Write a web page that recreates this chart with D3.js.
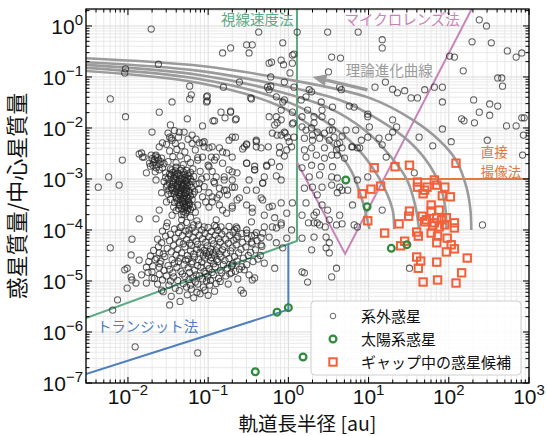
<!DOCTYPE html>
<html>
<head>
<meta charset="utf-8">
<script src="https://cdn.jsdelivr.net/npm/d3@7"></script>
<style>
body{margin:0;background:#fff;}
text{font-family:"Noto Sans CJK JP","Noto Sans",sans-serif;}
.tick-label{font-family:"Liberation Sans",Arial,sans-serif;}
</style>
</head>
<body>
<svg id="chart" width="547" height="436"></svg>
<script>
// ---- data (log10 a [au], log10 M/Mstar) ----
var xExponents = [-2, -1, 0, 1, 2, 3];
var yExponents = [-7, -6, -5, -4, -3, -2, -1, 0];

// hot Jupiter pile-up
var hotJupiters = [
[-1.44,-2.87],[-1.38,-2.89],[-1.31,-2.86],[-1.26,-2.90],
[-1.47,-2.94],[-1.40,-2.96],[-1.35,-2.93],[-1.29,-2.97],[-1.24,-2.94],
[-1.45,-3.03],[-1.41,-3.00],[-1.36,-3.04],[-1.32,-3.01],[-1.27,-3.03],[-1.22,-3.00],
[-1.48,-3.09],[-1.43,-3.07],[-1.38,-3.10],[-1.33,-3.08],[-1.29,-3.11],[-1.25,-3.07],
[-1.46,-3.16],[-1.40,-3.14],[-1.36,-3.17],[-1.31,-3.15],[-1.26,-3.13],[-1.21,-3.16],
[-1.44,-3.22],[-1.39,-3.20],[-1.34,-3.23],[-1.30,-3.21],[-1.24,-3.24],
[-1.42,-3.29],[-1.37,-3.27],[-1.33,-3.30],[-1.28,-3.28],[-1.23,-3.26],
[-1.40,-3.36],[-1.35,-3.34],[-1.31,-3.37],[-1.27,-3.35],[-1.22,-3.33],
[-1.38,-3.43],[-1.34,-3.41],[-1.29,-3.44],[-1.25,-3.42],
[-1.36,-3.50],[-1.31,-3.48],[-1.27,-3.51],[-1.23,-3.49],
[-1.33,-3.57],[-1.29,-3.55],[-1.25,-3.58],[-1.31,-3.64],[-1.26,-3.62],
[-1.42,-2.92],[-1.34,-2.99],[-1.28,-3.05],[-1.38,-3.12],[-1.33,-3.18],[-1.27,-3.24],[-1.36,-3.31],
[-1.30,-3.39],[-1.24,-3.46],[-1.29,-3.53],[-1.45,-3.19],[-1.41,-3.25],[-1.20,-3.40],[-1.50,-3.00],[-1.35,-2.83],
[-1.43,-2.98],[-1.37,-3.05],[-1.32,-3.13],[-1.27,-3.19],[-1.35,-3.26],[-1.30,-3.32],[-1.25,-3.38],
[-1.32,-3.45],[-1.27,-3.56],[-1.22,-3.60],[-1.39,-3.38],[-1.44,-3.11],[-1.49,-3.22],[-1.41,-2.84],
[-1.30,-2.92],[-1.23,-3.11],[-1.19,-3.30],[-1.35,-3.52],[-1.28,-3.66],[-1.33,-3.70],[-1.46,-3.28],
[-1.42,-3.46],[-1.20,-3.05],[-1.26,-2.99],[-1.39,-2.91],[-1.34,-3.10],[-1.29,-3.28],[-1.24,-3.52],
[-1.37,-3.58],[-1.48,-2.90],[-1.53,-2.97],[-1.51,-3.12],[-1.45,-2.82],[-1.40,-2.77],[-1.33,-2.79],
[-1.27,-2.83],[-1.22,-2.87],
[-1.70,-2.60],[-1.66,-2.55],[-1.62,-2.63],[-1.68,-2.68],[-1.64,-2.72],[-1.59,-2.66],[-1.57,-2.78],
[-1.72,-2.75],[-1.61,-2.82],[-1.66,-2.86],[-1.55,-2.70],[-1.53,-2.88],
[-1.67,-2.62],[-1.63,-2.58],[-1.60,-2.71],[-1.69,-2.73],[-1.58,-2.59],[-1.65,-2.78],
[-1.50,-2.10],[-1.42,-2.05],[-1.30,-2.08],[-1.46,-2.20],[-1.37,-2.18],[-1.25,-2.22],[-1.52,-2.32],
[-1.41,-2.30],[-1.33,-2.35],[-1.20,-2.30],[-1.48,-2.45],[-1.39,-2.42],[-1.29,-2.47],[-1.16,-2.43],
[-1.44,-2.56],[-1.35,-2.55],[-1.26,-2.60],[-1.50,-2.66],[-1.40,-2.68],[-1.31,-2.72],[-1.22,-2.68],
[-1.47,-2.80],[-1.19,-2.80],[-1.13,-2.58],
[-1.11,-2.29],[-1.05,-2.27],[-0.99,-2.39],[-0.86,-2.39],[-0.77,-2.49],[-0.82,-2.69],[-0.74,-2.82],
[-0.80,-3.02],[-0.86,-3.18],[-0.76,-3.31],[-0.89,-3.37],[-0.99,-3.27],[-1.07,-3.35],[-1.13,-3.51],
[-0.99,-3.55],[-0.82,-3.61],[-0.70,-3.57],[-0.64,-3.41],[-0.67,-3.16],[-0.64,-2.88],[-1.02,-2.96],
[-1.11,-3.08],[-0.99,-2.76],[-1.13,-2.63],[-1.07,-2.57],[-0.90,-2.57],[-0.74,-2.24],[-1.20,-2.14],
[-1.36,-2.08],[-1.48,-2.18],[-1.57,-2.29],[-1.65,-2.53],[-1.83,-2.49],[-1.80,-2.57],[-1.73,-2.69],
[-1.77,-2.88],[-1.65,-3.02],[-1.58,-3.27],[-1.52,-3.45],[-1.61,-3.61],[-1.45,-3.71],[-1.33,-3.80],
[-1.51,-3.86],[-1.30,-3.70],[-1.22,-3.75],[-1.27,-3.85],[-1.18,-3.90],[-1.35,-3.95],[-1.24,-4.00],
[-1.14,-3.82],[-1.18,-2.95],[-1.15,-3.10],[-1.17,-3.25],[-1.12,-3.20],[-1.19,-3.55],[-1.16,-3.65],
[-1.08,-3.00],[-1.05,-3.15],[-1.55,-3.05],[-1.52,-3.15],[-1.50,-3.30],[-1.47,-3.40],[-1.43,-3.55],
[-1.40,-3.62],[-1.10,-2.85],[-0.95,-2.85],[-0.93,-3.05],[-0.95,-3.45],[-1.03,-3.45]
];

// super-Earths and Neptunes (mostly transits)
var superEarths = [
[-1.74,-4.62],[-1.75,-4.83],[-1.72,-4.51],
[-1.68,-4.40],[-1.69,-4.71],[-1.67,-4.95],[-1.66,-4.58],
[-1.63,-4.18],[-1.62,-4.33],[-1.64,-4.55],[-1.61,-4.87],[-1.63,-5.06],[-1.60,-4.66],
[-1.57,-4.02],[-1.58,-4.25],[-1.56,-4.47],[-1.59,-4.61],[-1.55,-4.79],[-1.57,-4.98],[-1.56,-5.21],
[-1.52,-3.93],[-1.53,-4.12],[-1.51,-4.36],[-1.54,-4.52],[-1.50,-4.70],[-1.52,-4.90],[-1.49,-5.08],
[-1.47,-4.08],[-1.48,-4.21],[-1.46,-4.43],[-1.45,-4.58],[-1.48,-4.77],[-1.44,-4.84],[-1.47,-5.00],[-1.46,-5.30],
[-1.42,-3.98],[-1.41,-4.16],[-1.43,-4.30],[-1.40,-4.49],[-1.42,-4.65],[-1.39,-4.73],[-1.43,-4.92],[-1.41,-5.14],
[-1.37,-4.05],[-1.36,-4.24],[-1.38,-4.38],[-1.35,-4.55],[-1.37,-4.62],[-1.34,-4.81],[-1.38,-4.99],[-1.36,-5.19],[-1.35,-5.40],
[-1.33,-3.92],[-1.32,-4.11],[-1.31,-4.27],[-1.33,-4.45],[-1.30,-4.68],[-1.32,-4.86],[-1.31,-5.05],
[-1.28,-4.02],[-1.27,-4.19],[-1.29,-4.33],[-1.26,-4.50],[-1.28,-4.59],[-1.25,-4.74],[-1.29,-4.91],[-1.27,-5.12],[-1.26,-5.27],
[-1.24,-4.08],[-1.23,-4.26],[-1.22,-4.41],[-1.25,-4.57],[-1.21,-4.66],[-1.23,-4.83],[-1.24,-4.97],[-1.22,-5.08],
[-1.20,-3.96],[-1.19,-4.14],[-1.21,-4.30],[-1.18,-4.47],[-1.20,-4.62],[-1.17,-4.79],[-1.19,-4.94],[-1.21,-5.16],[-1.18,-5.33],
[-1.16,-4.04],[-1.15,-4.22],[-1.14,-4.38],[-1.17,-4.53],[-1.13,-4.70],[-1.15,-4.88],[-1.16,-5.02],[-1.14,-5.22],
[-1.12,-3.90],[-1.11,-4.10],[-1.13,-4.28],[-1.10,-4.44],[-1.12,-4.58],[-1.09,-4.73],[-1.11,-4.90],[-1.13,-5.06],[-1.10,-5.25],
[-1.08,-4.00],[-1.07,-4.17],[-1.09,-4.35],[-1.06,-4.49],[-1.08,-4.63],[-1.05,-4.81],[-1.07,-4.96],[-1.06,-5.12],
[-1.04,-4.07],[-1.03,-4.24],[-1.05,-4.40],[-1.02,-4.46],[-1.04,-4.55],[-1.01,-4.69],[-1.03,-4.85],[-1.02,-5.00],[-1.04,-5.18],
[-1.00,-3.95],[-0.99,-4.13],[-1.01,-4.31],[-0.98,-4.43],[-1.00,-4.51],[-0.97,-4.60],[-0.99,-4.76],[-1.01,-4.92],[-0.98,-5.08],[-1.00,-5.28],
[-0.96,-4.03],[-0.95,-4.20],[-0.97,-4.37],[-0.94,-4.45],[-0.96,-4.54],[-0.93,-4.66],[-0.95,-4.83],[-0.97,-4.99],
[-0.92,-3.91],[-0.91,-4.10],[-0.93,-4.27],[-0.90,-4.41],[-0.92,-4.49],[-0.89,-4.58],[-0.91,-4.72],[-0.93,-4.88],[-0.90,-5.05],[-0.92,-5.20],
[-0.88,-4.01],[-0.87,-4.17],[-0.89,-4.33],[-0.86,-4.47],[-0.88,-4.62],[-0.85,-4.79],[-0.87,-4.95],
[-0.84,-3.94],[-0.83,-4.08],[-0.85,-4.24],[-0.82,-4.39],[-0.84,-4.53],[-0.81,-4.68],[-0.83,-4.84],[-0.85,-5.01],
[-0.79,-4.02],[-0.78,-4.18],[-0.80,-4.32],[-0.77,-4.46],[-0.79,-4.60],[-0.76,-4.75],[-0.78,-4.90],
[-0.74,-3.93],[-0.73,-4.11],[-0.75,-4.26],[-0.72,-4.41],[-0.74,-4.56],[-0.71,-4.71],[-0.73,-4.86],[-0.75,-5.06],
[-0.69,-4.04],[-0.68,-4.20],[-0.70,-4.35],[-0.67,-4.52],[-0.69,-4.66],[-0.66,-4.81],
[-0.64,-3.97],[-0.63,-4.13],[-0.65,-4.29],[-0.62,-4.45],[-0.64,-4.61],[-0.61,-4.77],[-0.63,-4.96],
[-0.58,-4.07],[-0.57,-4.24],[-0.59,-4.38],[-0.56,-4.55],[-0.58,-4.72],
[-0.52,-4.00],[-0.51,-4.17],[-0.53,-4.33],[-0.50,-4.50],[-0.52,-4.68],[-0.49,-4.88],
[-0.46,-4.11],[-0.45,-4.27],[-0.47,-4.44],[-0.44,-4.62],
[-0.40,-4.05],[-0.39,-4.21],[-0.41,-4.39],[-0.38,-4.57],
[-0.34,-4.15],[-0.33,-4.32],[-0.35,-4.50],
[-1.86,-3.78],[-1.65,-3.78],[-1.95,-4.18],[-2.22,-4.35],[-2.04,-4.78],[-1.96,-4.92],[-1.90,-5.04],
[-2.01,-5.14],[-1.91,-6.29],[-1.13,-6.41],[-2.19,-5.57],[-2.13,-5.37],[-1.58,-5.18],[-1.48,-5.47],
[-1.96,-4.49],[-1.86,-4.59],[-1.77,-4.73],[-1.83,-4.88],[-1.70,-4.82],[-1.61,-4.45],[-1.61,-4.73],
[-2.01,-4.75],[-1.95,-4.98],[-1.77,-5.04],[-1.70,-4.94],
[-0.67,-4.00],[-0.65,-4.16],[-0.52,-4.06],[-0.46,-4.24],[-0.42,-4.10],[-0.34,-4.29],[-0.32,-4.06],
[-0.24,-4.14],[-0.15,-4.25],[-0.07,-4.35],[-0.15,-3.96],[-0.09,-3.90],[0.04,-4.00],[0.17,-4.16],
[0.32,-4.14],[0.47,-4.14],[0.51,-4.25],[0.29,-4.39],[0.47,-4.35],[0.51,-4.45],[0.60,-4.75],
[0.54,-4.92],[0.20,-4.84],[0.24,-5.02],[-0.17,-4.75],[-0.30,-4.65],[-0.42,-4.94],[-0.45,-4.98],
[-0.59,-5.18],[-0.56,-5.24],[-0.55,-4.78],[-0.70,-4.69],[-0.71,-4.84],[0.82,-3.90],[0.86,-3.94],
[0.32,-3.86],[0.17,-4.82],[0.46,-3.94],[0.67,-3.88],[-0.02,-4.16],[1.51,-4.75],[2.42,-3.90],
[0.25,-3.86],[0.39,-3.90],[0.32,-3.71]
];

// radial velocity giants inside ~10 au
var rvPlanets = [
[-1.71,-0.06],[-1.62,-0.75],[-2.04,-0.92],[-2.03,-0.84],[-2.22,-1.43],[-1.23,-1.18],[-1.21,-1.35],
[-1.23,-1.43],[-1.02,-1.39],[-1.01,-1.47],[-0.82,-0.53],[-0.72,-0.43],[-0.52,-0.37],[-0.45,-0.37],
[-0.49,-0.53],[-0.37,-0.12],[-0.24,-0.73],[-0.21,-0.71],[-0.22,-1.00],[-0.61,-1.10],[-0.81,-1.20],
[-0.22,-1.18],[-2.03,-1.78],[-1.61,-1.69],[-1.45,-1.49],[-0.46,-1.43],[-0.84,-1.69],[-0.72,-1.67],
[-0.65,-1.82],[-0.92,-1.86],[-1.07,-1.96],[-1.26,-1.82],[-1.47,-1.94],[-1.70,-2.08],[-0.26,-1.20],
[-2.07,-2.63],[-2.24,-2.96],[-2.11,-3.12],[-2.37,-3.16],[-1.86,-2.51],[-1.82,-2.57],[-1.71,-2.53],
[-1.61,-2.37],[-1.45,-2.24],[-1.15,-2.22],[-0.95,-2.37],[-0.92,-2.63],[-0.70,-2.57],[-0.55,-2.37],
[-0.52,-2.31],[-0.40,-2.24],[-0.40,-2.37],[-0.25,-2.37],[-0.27,-2.73],[-0.52,-2.69],[-0.42,-2.82],
[-0.49,-3.02],[-0.32,-3.08],[-0.70,-3.02],[-0.77,-3.22],[-0.95,-3.35],[-0.32,-3.41],[-0.24,-3.55],
[-0.45,-3.57],
[-1.01,-1.37],[-1.02,-1.49],[-0.72,-1.69],[-0.79,-1.80],[-0.66,-1.84],[-0.94,-1.86],[-0.47,-1.41],
[-0.24,-1.78],[-0.14,-1.90],[-0.17,-1.94],[0.06,-1.90],[-1.07,-2.29],[-1.05,-2.37],[-0.82,-2.47],
[-0.70,-2.18],[-0.66,-2.18],[-0.57,-2.41],[-0.52,-2.33],[-0.40,-2.27],[-0.34,-2.39],[-0.14,-2.14],
[-0.09,-2.14],[-0.04,-2.10],[-0.01,-2.18],[0.01,-2.27],[-0.11,-2.37],[-0.02,-2.43],[-0.11,-2.49],
[-0.05,-2.55],[-0.52,-2.69],[-0.42,-2.75],[-0.42,-2.82],[-0.21,-2.67],[-0.11,-2.76],[-0.27,-2.75],
[-0.30,-2.96],[-0.15,-2.94],[-0.09,-3.02],[-0.32,-3.08],[-0.40,-3.22],[-0.52,-3.22],[-0.70,-3.16],
[-0.80,-3.22],[-0.86,-3.31],[-0.92,-3.08],[-0.90,-2.96],[-0.80,-2.96],[-0.70,-2.86],[-1.00,-2.73],
[-0.96,-2.57],[-0.61,-3.37],[-0.52,-3.51],[-0.34,-3.37],[-0.20,-3.53],[-0.09,-3.47],[0.05,-3.47],
[-0.45,-3.65],[-0.30,-3.71],[-0.17,-3.76],[-0.02,-3.67],[-0.46,-3.84],[-0.20,-3.94],[-0.09,-3.86],
[-0.30,-3.94],[-0.65,-3.94],[-0.90,-3.80],[-0.90,-3.94],[-1.05,-3.94],[-0.77,-3.67],[-0.70,-3.53],
[-0.86,-3.51],
[0.05,-0.57],[0.26,-1.25],[0.16,-1.45],[0.22,-1.39],[-0.07,-1.49],[-0.09,-1.65],[0.24,-1.65],
[0.41,-1.49],[0.32,-1.78],[0.42,-1.65],[0.51,-2.04],[0.54,-1.88],[0.32,-1.90],[0.22,-2.04],
[0.20,-2.20],[0.30,-2.24],[0.39,-2.20],[0.51,-2.24],[0.57,-2.18],[0.64,-2.29],[0.60,-2.43],
[0.45,-2.39],[0.29,-2.39],[0.20,-2.43],[0.22,-2.57],[0.35,-2.53],[0.45,-2.59],[0.54,-2.53],
[0.61,-2.53],[0.67,-2.39],[0.79,-2.37],[0.86,-2.39],[0.70,-2.59],[0.55,-2.76],[0.41,-2.76],
[0.29,-2.73],[0.17,-2.78],[0.26,-2.96],[0.39,-2.92],[0.54,-2.96],[0.61,-2.98],[0.64,-3.16],
[0.54,-3.12],[0.42,-3.16],[0.30,-3.16],[0.20,-3.18],[0.36,-3.31],[0.61,-3.27],[0.67,-3.22],
[0.42,-3.51],[0.22,-3.47],[0.35,-3.65],[0.49,-3.61],[0.64,-3.71],[0.17,-3.71],[0.36,-3.86],
[0.51,-3.80],[0.60,-3.90],[0.80,-3.51],[0.74,-3.22],[0.86,-3.02],[0.99,-2.96],[0.91,-2.24],
[0.84,-2.04],[1.13,-2.20],[1.30,-2.08],[1.17,-3.61],[1.57,-2.88]
];

// wide orbit giants
var widePlanets = [
[0.11,-0.12],[0.49,-0.12],[0.87,-0.12],[-0.07,-0.33],[1.17,-0.27],[1.17,-0.43],[0.07,-0.55],
[0.54,-0.61],[0.65,-0.63],[-0.09,-0.67],[-0.06,-0.76],[0.05,-0.73],[0.02,-0.92],[0.50,-0.90],
[-0.05,-1.10],[0.07,-1.20],[0.29,-1.29],[0.66,-1.25],[1.08,-1.20],[1.30,-1.24],[1.36,-1.31],
[1.45,-1.27],[1.53,-1.41],[1.70,-1.25],[1.82,-1.20],[1.92,-1.20],[1.92,-1.49],[2.01,-0.59],
[2.07,-0.61],[2.18,-0.88],[2.31,-1.45],[2.29,-0.31],[2.53,-0.33],[2.38,0.12],[2.47,0.00],
[2.73,-0.49],[2.84,-0.61],[2.91,-0.53],[2.61,-1.02],[2.66,-1.02],[2.67,-1.18],[2.51,-1.53],
[2.61,-1.57],[2.51,-1.75],[2.38,-1.69],[2.16,-1.82],[2.19,-1.86],[2.32,-1.90],[2.72,-1.96],
[2.84,-1.96],[2.91,-1.80],[2.94,-1.80],[2.93,-2.14],[2.92,-2.53],[2.48,-2.24],[2.03,-2.27],
[1.80,-2.35],[1.63,-2.18],[1.92,-2.02],[-0.24,-1.25],[-0.15,-1.39],[-0.05,-1.45],[0.05,-1.69],
[-0.15,-1.78],[-0.09,-1.84],[0.05,-1.92],[-0.20,-2.10],[-0.05,-2.08],[0.07,-2.18],[0.04,-2.37],
[0.17,-1.78],[0.17,-1.98],[0.29,-2.00],[0.30,-2.14],[0.36,-2.08],[0.45,-2.10],[0.55,-2.04],
[0.72,-2.04],[0.42,-1.78],[0.55,-1.59],[0.76,-1.57],[0.99,-1.73],[1.01,-1.98],[0.61,-2.31],
[0.67,-2.16],[0.80,-2.37],[0.89,-2.39],[1.17,-2.33],[1.30,-1.84],[1.35,-1.98],[1.61,-1.41],
[1.21,-1.10],[0.99,-2.18],[0.99,-1.78],[0.82,-1.59],[0.64,-1.20],[1.25,-2.18],[1.22,-2.57]
];

// solar system planets
var solarNames = ["Mercury", "Venus", "Earth", "Mars", "Jupiter", "Saturn", "Uranus", "Neptune"];
var solarA = [0.387, 0.723, 1.0, 1.524, 5.20, 9.58, 19.2, 30.1];
var solarM = [1.66e-7, 2.45e-6, 3.0e-6, 3.23e-7, 9.55e-4, 2.86e-4, 4.37e-5, 5.15e-5];

// planet candidates in disk gaps
var gapCandidates = [
[1.07,-2.78],[1.33,-2.76],[1.51,-2.73],[2.09,-2.69],[1.15,-3.14],[1.03,-3.20],[0.92,-3.29],
[1.61,-3.06],[1.61,-3.16],[1.68,-3.29],[1.73,-3.16],[1.85,-3.12],[1.82,-3.02],[1.95,-3.16],
[1.92,-3.33],[2.02,-3.35],[1.70,-3.22],[1.78,-3.51],[1.51,-3.63],[1.50,-3.73],[1.88,-3.61],
[1.78,-3.63],[1.67,-3.73],[1.85,-3.76],[1.91,-3.80],[1.97,-3.76],[0.99,-3.82],[1.38,-3.88],
[1.70,-3.84],[1.82,-3.86],[1.88,-3.94],[1.95,-3.90],[2.07,-3.86],[2.07,-3.96],[1.20,-4.06],
[1.60,-4.04],[1.62,-4.12],[1.78,-4.06],[1.86,-4.12],[1.98,-4.16],[1.45,-4.22],[1.40,-4.31],
[1.85,-4.25],[2.03,-4.29],[2.07,-4.37],[1.97,-4.43],[2.23,-4.55],[1.60,-4.53],[1.65,-4.61],
[1.85,-4.63],[2.16,-4.84],[1.68,-5.02],[1.86,-4.98],[2.09,-5.04],[1.62,-4.75],[1.72,-3.80],
[1.80,-3.92]
];

// theoretical evolution tracks, log10 a / log10 M
var evolutionTracks = [
[[-2.55,-0.88],[-1.11,-1.12],[-0.11,-1.57],[0.26,-1.94],[0.57,-2.37],[0.79,-2.86],[0.92,-3.41],[1.01,-3.98]],
[[-2.55,-0.82],[-1.11,-1.04],[-0.11,-1.43],[0.39,-1.80],[0.76,-2.24],[1.03,-2.73],[1.21,-3.22],[1.30,-3.61],[1.32,-3.98]],
[[-2.55,-0.76],[-1.11,-0.96],[-0.11,-1.29],[0.51,-1.61],[0.95,-2.04],[1.26,-2.53],[1.48,-3.02],[1.58,-3.51],[1.63,-3.98]],
[[-2.55,-0.71],[-1.11,-0.88],[-0.11,-1.16],[0.64,-1.45],[1.13,-1.84],[1.51,-2.27],[1.76,-2.73],[1.91,-3.22],[1.96,-3.61],[1.97,-3.98]],
[[-2.55,-0.63],[-1.11,-0.78],[-0.11,-1.02],[1.01,-1.41],[1.55,-1.84],[1.88,-2.24],[2.09,-2.63],[2.22,-3.16],[2.27,-3.61],[2.28,-4.00]]
];

// detection limits [a, M]
var rvLimit = [[0.003, 1.87e-6], [1.28, 6.1e-5], [1.28, 3]];
var transitLimit = [[0.003, 1.5e-7], [1.0, 2.75e-6], [1.0, 5.5e-5]];
var microlensLimit = [[1.28, 2.15e-3], [5.1, 3.4e-5], [200, 2.4]];
var imagingLimit = [[16, 1e-3], [1000, 1e-3]];

var legendLabels = ["系外惑星", "太陽系惑星", "ギャップ中の惑星候補"];

// ---- colours ----
var COLOR = {
    rv: "#5aaa84",
    transit: "#4f7fbd",
    micro: "#c884b8",
    imaging: "#e07a3e",
    track: "#9b9b9b",
    gap: "#f2603a",
    solar: "#2e8a3c",
    exo: "#222222"
};

// ---- layout ----
var W = 547, H = 436;
var margin = {left: 86, right: 18, top: 9, bottom: 53};
var x = d3.scaleLog().domain([0.003, 1000]).range([margin.left, W - margin.right]);
var y = d3.scaleLog().domain([1e-7, 2.15]).range([H - margin.bottom, margin.top]);
var x0 = x.range()[0], x1 = x.range()[1], yb = y.range()[0], yt = y.range()[1];

var svg = d3.select("#chart");

function isMajor(v) {
    var l = Math.log10(v);
    return Math.abs(l - Math.round(l)) < 1e-6;
}
function px(d) { return x(Math.pow(10, d[0])); }
function py(d) { return y(Math.pow(10, d[1])); }

svg.append("defs").append("clipPath").attr("id", "plotClip")
    .append("rect").attr("x", x0).attr("y", yt).attr("width", x1 - x0).attr("height", yb - yt);

// ---- grid ----
var xTicks = x.ticks(), yTicks = y.ticks();
var grid = svg.append("g");
grid.selectAll(".gx").data(xTicks).enter().append("line")
    .attr("x1", d => x(d)).attr("x2", d => x(d)).attr("y1", yt).attr("y2", yb)
    .attr("stroke", d => isMajor(d) ? "#d6d6d6" : "#e6e6e6").attr("stroke-width", 0.9);
grid.selectAll(".gy").data(yTicks).enter().append("line")
    .attr("y1", d => y(d)).attr("y2", d => y(d)).attr("x1", x0).attr("x2", x1)
    .attr("stroke", d => isMajor(d) ? "#d6d6d6" : "#e6e6e6").attr("stroke-width", 0.9);

var plot = svg.append("g").attr("clip-path", "url(#plotClip)");
var lineAM = d3.line().x(d => x(d[0])).y(d => y(d[1]));

// ---- detection limits ----
plot.append("path").attr("d", lineAM(rvLimit)).attr("fill", "none").attr("stroke", COLOR.rv).attr("stroke-width", 2);
plot.append("path").attr("d", lineAM(transitLimit)).attr("fill", "none").attr("stroke", COLOR.transit).attr("stroke-width", 2);
plot.append("path").attr("d", lineAM(microlensLimit)).attr("fill", "none").attr("stroke", COLOR.micro).attr("stroke-width", 2);
plot.append("path").attr("d", lineAM(imagingLimit)).attr("fill", "none").attr("stroke", COLOR.imaging).attr("stroke-width", 2);

// ---- evolution tracks ----
var trackLine = d3.line().x(px).y(py).curve(d3.curveCatmullRom.alpha(0.5));
plot.selectAll(".track").data(evolutionTracks).enter().append("path")
    .attr("d", trackLine).attr("fill", "none")
    .attr("stroke", COLOR.track).attr("stroke-width", 2.6);

// ---- exoplanets ----
var exoplanets = hotJupiters.concat(superEarths, rvPlanets, widePlanets);
plot.selectAll(".exo").data(exoplanets).enter().append("circle")
    .attr("cx", px).attr("cy", py).attr("r", 3.1)
    .attr("fill", "none").attr("stroke", COLOR.exo)
    .attr("stroke-opacity", 0.72).attr("stroke-width", 1.05);

// ---- gap candidates ----
plot.selectAll(".gap").data(gapCandidates).enter().append("rect")
    .attr("x", d => px(d) - 3.7).attr("y", d => py(d) - 3.7)
    .attr("width", 7.4).attr("height", 7.4)
    .attr("fill", "none").attr("stroke", COLOR.gap).attr("stroke-width", 2);

// ---- solar system ----
plot.selectAll(".solar").data(solarA).enter().append("circle")
    .attr("cx", d => x(d)).attr("cy", (d, i) => y(solarM[i])).attr("r", 3.4)
    .attr("fill", "none").attr("stroke", COLOR.solar).attr("stroke-width", 2.2);

// ---- arrow along tracks ----
var arrowTail = [9.7, 0.056], arrowTip = [2.0, 0.1];
var ax0 = x(arrowTail[0]), ay0 = y(arrowTail[1]), ax1 = x(arrowTip[0]), ay1 = y(arrowTip[1]);
var ang = Math.atan2(ay1 - ay0, ax1 - ax0), hl = 14, hw = 6;
var bx = ax1 - hl * Math.cos(ang), by = ay1 - hl * Math.sin(ang);
svg.append("line").attr("x1", ax0).attr("y1", ay0).attr("x2", bx).attr("y2", by)
    .attr("stroke", COLOR.track).attr("stroke-width", 3.4);
svg.append("path")
    .attr("d", "M" + ax1 + "," + ay1 +
        "L" + (bx + hw * Math.sin(ang)) + "," + (by - hw * Math.cos(ang)) +
        "L" + (bx - hw * Math.sin(ang)) + "," + (by + hw * Math.cos(ang)) + "Z")
    .attr("fill", COLOR.track);

// ---- annotations (data coords); multi-line notes use tspans ----
var notes = [
    {t: ["視線速度法"], a: 1.16, m: 1.05, c: COLOR.rv, anchor: "end", fs: 14.5},
    {t: ["マイクロレンズ法"], a: 5.0, m: 1.05, c: COLOR.micro, anchor: "start", fs: 14.5},
    {t: ["理論進化曲線"], a: 5.2, m: 0.105, c: COLOR.track, anchor: "start", fs: 14.5},
    {t: ["直接", "撮像法"], a: 250, m: 2.65e-3, c: COLOR.imaging, anchor: "start", fs: 13.5},
    {t: ["トランジット法"], a: 0.0041, m: 1.0e-6, c: COLOR.transit, anchor: "start", fs: 14.5}
];
svg.selectAll(".note").data(notes).enter().append("text")
    .attr("x", d => x(d.a)).attr("y", d => y(d.m))
    .attr("text-anchor", d => d.anchor).attr("fill", d => d.c)
    .attr("font-size", d => d.fs)
    .each(function (d) {
        var t = d3.select(this), xx = x(d.a);
        d.t.forEach(function (s, i) {
            t.append("tspan").attr("x", xx).attr("dy", i === 0 ? 0 : 19.8).text(s);
        });
    });

// ---- ticks on all four sides (inward) ----
var ticks = svg.append("g").attr("stroke", "#000").attr("stroke-width", 1);
xTicks.forEach(function (v) {
    var L = isMajor(v) ? 6 : 3.5;
    ticks.append("line").attr("x1", x(v)).attr("x2", x(v)).attr("y1", yb).attr("y2", yb - L);
    ticks.append("line").attr("x1", x(v)).attr("x2", x(v)).attr("y1", yt).attr("y2", yt + L);
});
yTicks.forEach(function (v) {
    var L = isMajor(v) ? 6 : 3.5;
    ticks.append("line").attr("y1", y(v)).attr("y2", y(v)).attr("x1", x0).attr("x2", x0 + L);
    ticks.append("line").attr("y1", y(v)).attr("y2", y(v)).attr("x1", x1).attr("x2", x1 - L);
});

// frame
svg.append("rect").attr("x", x0).attr("y", yt).attr("width", x1 - x0).attr("height", yb - yt)
    .attr("fill", "none").attr("stroke", "#000").attr("stroke-width", 1.3);

// ---- tick labels 10^n ----
function powLabel(sel, e) {
    sel.append("tspan").text("10");
    sel.append("tspan").attr("dy", -9).attr("font-size", 15).text(e < 0 ? "\u2212" + (-e) : String(e));
}
svg.selectAll(".xl").data(xExponents).enter().append("text")
    .attr("class", "tick-label").attr("x", d => x(Math.pow(10, d))).attr("y", yb + 21)
    .attr("text-anchor", "middle").attr("font-size", 21).attr("fill", "#111")
    .each(function (d) { powLabel(d3.select(this), d); });
svg.selectAll(".yl").data(yExponents).enter().append("text")
    .attr("class", "tick-label").attr("x", x0 - 3).attr("y", d => y(Math.pow(10, d)) + 8)
    .attr("text-anchor", "end").attr("font-size", 21).attr("fill", "#111")
    .each(function (d) { powLabel(d3.select(this), d); });

// ---- axis titles ----
svg.append("text").attr("x", (x0 + x1) / 2).attr("y", 430.5).attr("text-anchor", "middle")
    .attr("font-size", 19.5).attr("fill", "#111").text("軌道長半径 [au]");
svg.append("text").attr("transform", "translate(25," + ((yt + yb) / 2) + ") rotate(-90)")
    .attr("text-anchor", "middle").attr("font-size", 22).attr("fill", "#111").text("惑星質量/中心星質量");

// ---- legend ----
var lw = 210, lh = 74;
var lg = svg.append("g").attr("transform", "translate(" + (x1 - 8 - lw) + "," + (yb - 8 - lh) + ")");
lg.append("rect").attr("width", lw).attr("height", lh).attr("rx", 4)
    .attr("fill", "#fff").attr("fill-opacity", 0.85).attr("stroke", "#d0d0d0");
legendLabels.forEach(function (t, i) {
    var cy = 15 + i * 23;
    if (i === 0) {
        lg.append("circle").attr("cx", 22).attr("cy", cy).attr("r", 2.8)
            .attr("fill", "none").attr("stroke", "#666").attr("stroke-width", 1);
    } else if (i === 1) {
        lg.append("circle").attr("cx", 22).attr("cy", cy).attr("r", 3.4)
            .attr("fill", "none").attr("stroke", COLOR.solar).attr("stroke-width", 2.2);
    } else {
        lg.append("rect").attr("x", 22 - 3.7).attr("y", cy - 3.7).attr("width", 7.4).attr("height", 7.4)
            .attr("fill", "none").attr("stroke", COLOR.gap).attr("stroke-width", 2);
    }
    lg.append("text").attr("x", 50).attr("y", cy + 5.5).attr("font-size", 15)
        .attr("fill", "#111").text(t);
});
</script>
</body>
</html>
